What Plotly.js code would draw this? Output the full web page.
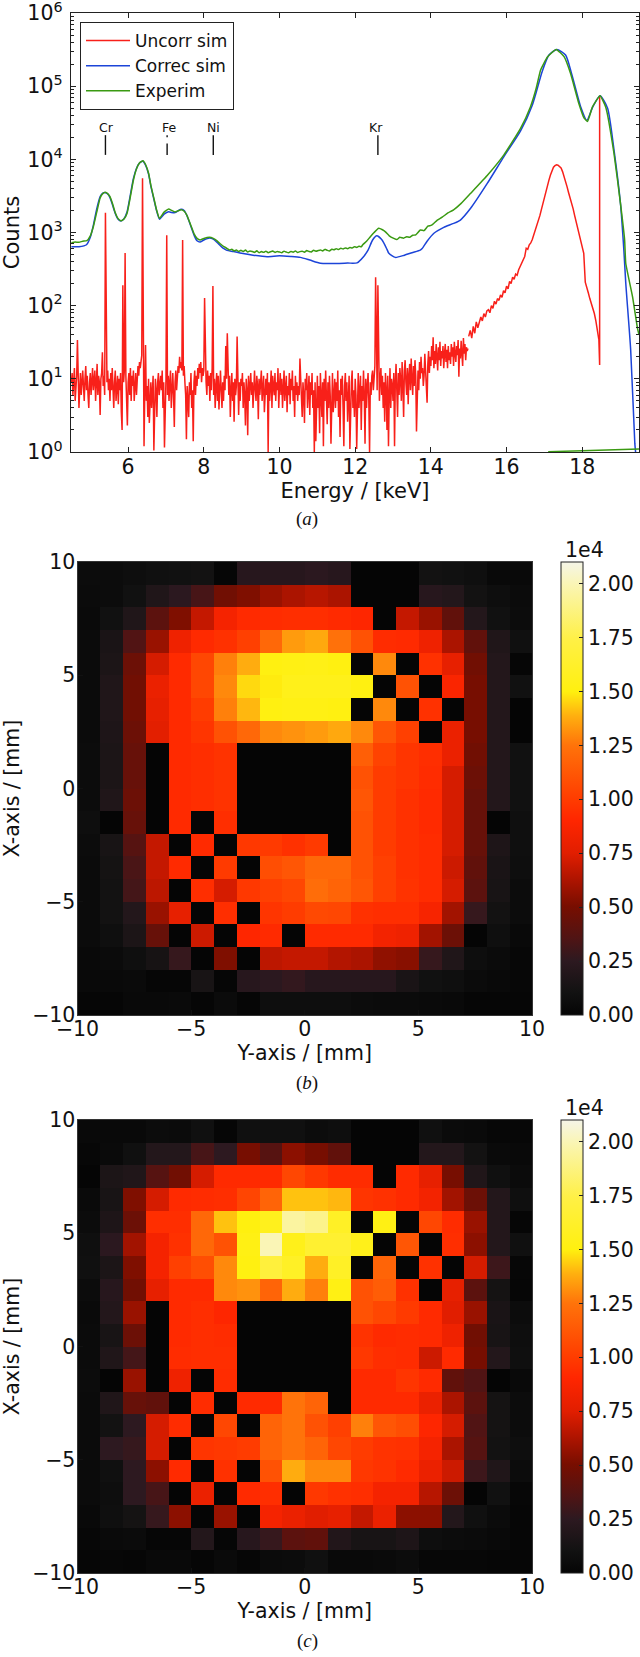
<!DOCTYPE html>
<html><head><meta charset="utf-8">
<script src="https://cdn.plot.ly/plotly-3.0.1.min.js"></script>
<style>html,body{margin:0;padding:0;background:#fff}</style></head>
<body><div id="chart" style="width:640px;height:1657px"></div>
<script>
// Uncorrected simulation below 15 keV, sampled every 0.02 keV from 4.50 keV
const noiseStart = 4.5, noiseStep = 0.02;
const noiseCounts = [
9,12,6,10,14,5,8,11,34,9,4,7,12,6,9,13,8,5,10,15,7,11,6,4,9,
12,6,10,14,7,9,13,5,8,16,6,11,9,3.2,10,12,23,8,11,6,1860,15,9,13,7,
10,5,12,7,14,6,4,9,13,5,8,11,4.5,10,7,12,3.5,2,190,9,13,525,11,6,2.3,
9,12,6,14,5,11,8,13,5,9,12,6,13,15,11,17,14,19,21,5500,22,1.2,7,29,5,
8,3,10,2.5,6,9,4,7,11,1.05,5,10,7,3,9,12,6,8,11,7,13,4,9,1.15,7,
10,920,6,11,5,9,13,4,8,12,6,2.2,9,13,7,11,15,12,20,14,17,13,790,11,15,
9,6,1.5,8,5,3,9,6,12,4,7,1.4,9,13,6,11,8,14,10,16,12,17,9,14,11,
13,127,16,9,6,13,8,11,5,12,7,14,186,6,10,4,8,12,5,11,3.8,9,13,7,4,
9,5,11,7,28,10,42,8,6,11,3,7,12,5,9,2.6,10,6,8,38,7,3.2,9,5,10,
8,12,4,9,6,2.3,10,7,1.7,11,5,8,12,6,9,4,10,13,7,5,11,8,2.8,10,6,
9,13,5,8,11,3.5,7,10,6,12,1.0,9,5,7,13,4,11,8,6,12,5,9,7,14,4,
8,12,6,10,4,7,13,5,9,11,3.5,8,6,12,4.5,10,7,13,5,8,3,11,6,9,5,
8,6,19,10,5,3,9,6,2.5,10,7,12,4,8,11,3.2,9,6,12,4,7,1.0,9,1.4,6,
11,4,8,1.8,12,6,3,9,1.2,10,5,13,7,2.4,9,4,11,6,1.3,8,12,3.5,7,10,4,
9,5,13,3,7,1.6,10,6,11,4,1.2,8,12,5,9,2.6,7,11,1.1,5,9,13,4,7,3,
10,6,1.1,9,12,4,7,11,2,8,5,13,6,1.3,10,4,8,12,5,1.0,9,6,11,13,7,
12,15,245,9,7,190,13,5,10,14,6,11,4,9,2.6,12,7,2,11,1.2,6,14,4,10,8,
5,12,1.2,9,16,7,3,12,6,14,10,5,17,8,3,13,18,9,6,14,4.5,11,16,7,19,
10,6,15,8,18,11,1.9,9,13,7,17,10,20,12,14,8,11,22,14,9,4.7,16,24,12,20,
15,28,18,37,14,24,16,30,20,13,27,18,32,15,24,19,28,14,22,30,17,25,14,28,18,
23,16,30,20,27,15,32,22,17,28,21,34,10.7,26,19,33,24,15,36,22,30,18,27,24,26];
// Uncorrected simulation above 15 keV, sampled every 0.04 keV
const riseStart = 15, riseStep = 0.04;
const riseCounts = [38,46,36,52,42,60,50,58,70,62,78,70,85,
88,80,100,92,115,105,125,118,140,130,160,150,185,170,215,200,245,230,270,260,310,340,385,430,470,
610,590,680,720,800,920,1050,1250,1450,1700,2050,2500,3000,3700,4500,5200,6100,7000,7800,8200,8400,8300,8000,7600,6800,
5900,5000,4200,3500,3000,2500,2100,1700,1400,1200,1000,820,680,520,210,170,150,125,108,92,78,62,45,34];
const edgeE = [18.44,18.46,18.46];
const edgeCounts = [34,15.5,71000];

const correcE = [4.5,4.7,4.9,5.0,5.08,5.17,5.26,5.33,5.4,5.46,5.52,5.59,5.66,5.73,5.81,5.89,5.97,6.05,6.14,6.22,6.3,6.39,6.46,6.54,6.6,6.67,6.75,6.83,6.95,7.07,7.15,7.24,7.32,7.4,7.48,7.55,7.65,7.75,7.82,7.9,8.0,8.15,8.25,8.35,8.45,8.53,8.61,8.78,9.0,9.3,9.67,10,10.3,10.55,10.8,11.08,11.5,11.8,12.05,12.22,12.34,12.46,12.57,12.71,12.84,12.89,13.06,13.3,13.5,13.72,13.77,13.9,14.08,14.34,14.6,14.78,15.05,15.49,15.93,16.37,16.68,16.94,17.12,17.33,17.56,17.73,17.96,18.12,18.27,18.47,18.67,18.84,19.01,19.1,19.15,19.28,19.39,19.41];
const correcCounts = [640,640,680,860,1250,2100,3100,3450,3500,3350,3000,2350,1820,1530,1440,1540,1900,3100,5500,7500,8900,9400,8300,6300,4300,3000,2000,1520,1780,1920,1880,1870,1980,2080,2000,1720,1250,900,770,740,790,840,810,730,650,600,570,550,520,490,467,480,470,457,420,380,378,382,385,467,575,790,902,790,589,519,457,490,530,575,603,760,977,1175,1330,1480,2140,4680,10900,24500,55000,158000,266000,318000,266000,141000,52000,33900,51000,74000,50000,13400,2500,575,204,25,1.3,1];

const experimE = [4.5,4.6,4.7,4.8,4.91,5.0,5.08,5.17,5.26,5.33,5.4,5.46,5.52,5.59,5.66,5.73,5.81,5.89,5.97,6.05,6.14,6.22,6.3,6.39,6.46,6.54,6.6,6.67,6.75,6.83,6.95,7.07,7.15,7.24,7.32,7.4,7.48,7.55,7.65,7.75,7.82,7.9,8.0,8.15,8.25,8.35,8.45,8.53,8.61,
8.68,8.74,8.8,8.86,8.92,8.98,9.04,9.1,9.16,9.22,9.28,9.34,9.4,9.46,9.52,9.58,9.64,9.7,9.76,9.82,9.88,9.94,10,10.06,10.12,10.18,10.24,10.3,10.36,10.42,10.48,10.54,10.6,10.66,10.72,10.78,10.84,10.9,10.96,11.02,11.08,11.14,11.2,11.26,11.32,11.38,11.44,11.5,11.56,11.62,11.68,11.74,11.8,11.86,11.92,11.98,12.04,12.1,12.16,12.2,
12.3,12.4,12.5,12.62,12.72,12.8,12.9,13.02,13.1,13.18,13.28,13.36,13.44,13.52,13.6,13.72,13.82,13.92,14.02,14.17,14.3,14.45,14.6,14.8,15.05,15.5,15.93,16.37,16.63,16.78,16.9,17.08,17.31,17.52,17.69,17.91,18.05,18.14,18.27,18.47,18.62,18.84,19.01,19.12,19.15,19.33,19.46,19.5,null,17.1,18,19.5];
const experimCounts = [725,740,735,760,773,900,1200,1900,2960,3400,3550,3400,3090,2450,1860,1560,1450,1530,1820,2900,5220,7400,8900,9550,8500,6450,4400,3090,2050,1560,1900,2090,2000,1910,1980,2040,1950,1730,1280,940,832,790,830,860,830,770,690,640,607,
575,590,560,578,548,570,552,575,540,560,550,535,562,528,548,536,556,530,545,558,534,552,542,530,556,540,528,552,538,560,532,548,556,538,566,550,542,572,556,566,578,560,588,572,560,590,580,602,584,610,594,616,600,625,612,640,626,650,636,680,
760,875,1000,1140,1090,1020,900,830,800,860,835,875,860,915,930,1080,1060,1220,1260,1480,1620,1850,2040,2500,3430,6100,11500,26500,52000,92000,166000,250000,318000,253000,150000,58000,36500,33000,52000,74000,52000,12000,2500,790,380,132,49,40,null,1.01,1.04,1.1];

const elementE = [5.4,5.4,null,7.03,7.03,null,7.03,7.03,null,8.25,8.25,null,12.6,12.6];
const elementTicks = [21400,11500,null,21400,20000,null,16500,11500,null,21400,11500,null,21400,11500];
const elementNames = ['Cr','Fe','Ni','Kr'];
const elementNameE = [5.42,7.08,8.25,12.55];
const energyTicks = [6,8,10,12,14,16,18];
const countTicks = [1,10,100,1000,10000,100000,1000000];
const countLabels = ['10<sup>0</sup>','10<sup>1</sup>','10<sup>2</sup>','10<sup>3</sup>','10<sup>4</sup>','10<sup>5</sup>','10<sup>6</sup>'];
const countMinor = [2,3,4,5,6,7,8,9,20,30,40,50,60,70,80,90,200,300,400,500,600,700,800,900,2000,3000,4000,5000,6000,7000,8000,9000,20000,30000,40000,50000,60000,70000,80000,90000,200000,300000,400000,500000,600000,700000,800000,900000];

// Intensity maps in units of 1e4; rows from X = +10 down to X = -10
const mapB = [
[.06,.06,.07,.09,.10,.11,.01,.22,.22,.22,.24,.22,0,0,0,.11,.10,.08,.03,.03],
[.05,.06,.10,.18,.24,.33,.48,.52,.58,.62,.65,.62,0,0,0,.22,.20,.11,.07,.05],
[.04,.10,.18,.40,.52,.68,.85,.92,.93,.94,.94,.92,.90,0,.68,.58,.42,.20,.10,.06],
[.05,.15,.36,.58,.82,.92,.95,1.02,1.2,1.34,1.37,1.24,1.1,.93,.92,.82,.62,.42,.18,.09],
[.05,.16,.46,.72,.92,1.05,1.28,1.38,1.51,1.52,1.53,1.51,0,1.3,0,.95,.78,.48,.20,.01],
[.05,.18,.48,.8,.92,1.05,1.3,1.46,1.49,1.55,1.55,1.55,1.51,0,1.1,0,.88,.5,.2,.1],
[.05,.18,.48,.78,.92,1.0,1.28,1.4,1.51,1.52,1.52,1.51,0,1.3,0,.95,0,.5,.2,0],
[.05,.17,.46,.76,.92,.97,1.1,1.2,1.3,1.32,1.34,1.37,1.3,1.12,1.02,0,.8,.5,.2,0],
[.06,.16,.44,0,.92,.94,.96,0,0,0,0,0,1.16,1.03,.97,.94,.8,.48,.2,.1],
[.06,.16,.44,0,.92,.94,.96,0,0,0,0,0,1.1,1.0,.97,.93,.72,.46,.2,.1],
[.06,.18,.46,0,.92,.94,.96,0,0,0,0,0,1.12,1.0,.95,.92,.72,.44,.2,.1],
[.07,0,.44,0,.92,0,.94,0,0,0,0,0,1.1,1.0,.95,.92,.72,.44,0,.08],
[.06,.14,.38,.68,0,.92,0,.98,.99,.95,.99,0,1.1,1.0,.95,.93,.72,.44,.17,.08],
[.05,.12,.34,.68,.92,0,.99,0,1.08,1.12,1.2,1.2,1.1,1.02,.95,.93,.7,.42,.15,.07],
[.05,.11,.32,.66,0,.94,.72,.98,1.02,1.05,1.22,1.18,1.12,1.02,.96,.93,.72,.40,.14,.06],
[.05,.11,.2,.58,.78,0,.94,0,.97,1.0,1.06,1.05,.95,.94,.94,.86,.6,.28,.11,.06],
[.05,.08,.16,.44,0,.7,0,.9,.92,0,.92,.92,.92,.84,.82,.6,.46,0,.08,.03],
[.03,.05,.08,.13,.28,0,.52,0,.66,.68,.68,.64,.62,.56,.54,.28,.18,.07,.05,.02],
[.03,.03,.04,.01,.01,.14,.01,.22,.24,.27,.22,.22,.22,.22,.15,.1,.08,.05,.03,.02],
[.01,.01,.03,.03,.04,.01,.05,.01,.07,.07,.07,.07,.06,.05,.05,.04,.03,.01,.01,.01]];
const mapC = [
[.03,.03,.03,.06,.05,.09,.01,.09,.09,.09,.06,.07,0,0,0,.09,.05,.04,.02,.02],
[.02,.04,.09,.2,.2,.33,.25,.5,.38,.55,.5,.42,0,0,0,.2,.2,.11,.04,.03],
[0,.16,.18,.38,.48,.72,.92,.92,.92,1.05,.98,.93,.93,0,.92,.78,.5,.18,.09,.05],
[.04,.14,.52,.72,.92,.93,.94,1.04,1.18,1.42,1.42,1.4,.97,.95,.92,.84,.6,.46,.2,.08],
[.06,.17,.46,.94,.94,1.2,1.42,1.5,1.56,1.95,1.9,1.6,0,1.52,0,1.05,.93,.58,.2,.01],
[.08,.24,.6,.85,.95,1.2,1.1,1.52,2.0,1.55,1.65,1.65,1.55,0,1.12,0,.94,.55,.2,.09],
[.09,.16,.52,.85,1.02,1.08,1.3,1.51,1.7,1.6,1.38,1.6,0,1.18,0,.95,0,.72,.3,.02],
[.06,.22,.48,.78,.92,.92,1.3,1.32,1.18,1.38,1.28,1.52,1.1,1.15,.95,0,.78,.4,.12,.01],
[.04,.2,.58,0,.92,.94,.9,0,0,0,0,0,1.1,1.05,.99,.92,.75,.58,.15,.06],
[.05,.14,.46,0,.92,.94,.93,0,0,0,0,0,.96,.92,.93,.92,.82,.48,.14,.07],
[.05,.18,.32,0,.93,.94,.94,0,0,0,0,0,.98,.94,.93,.7,.92,.5,.2,.08],
[.06,0,.58,0,.82,0,.93,0,0,0,0,0,.92,.92,.97,.92,.42,.36,0,.03],
[.05,.18,.44,.42,0,.93,0,.92,.92,1.25,1.18,0,.92,.92,.92,.8,.62,.4,.12,.06],
[.05,.11,.25,.72,.93,0,1.05,0,1.18,1.25,1.1,1.02,1.28,1.12,1.08,.9,.72,.36,.12,.06],
[.05,.25,.28,.72,0,.97,.98,1.0,1.18,1.25,1.18,1.05,1.0,.96,.95,.85,.62,.38,.11,.07],
[.05,.09,.25,.55,.92,0,.95,0,1.1,1.38,1.3,1.3,.98,.96,.92,.8,.7,.3,.18,.06],
[.05,.07,.25,.33,0,.8,0,.92,.94,0,.98,.95,.94,.85,.85,.65,.46,0,.1,.02],
[.03,.08,.12,.28,.55,0,.58,0,.85,.8,.75,.78,.68,.8,.55,.55,.2,.09,.05,.01],
[.02,.04,.05,.01,.01,.2,.01,.22,.28,.4,.42,.19,.14,.14,.17,.07,.06,.05,.03,.01],
[.01,.02,.01,.03,.03,.01,.04,.01,.05,.06,.09,.03,.03,.04,.06,.02,.02,.02,.01,.01]];
const mapTicks = [-10,-5,0,5,10];
const barTicks = [0,.25,.5,.75,1,1.25,1.5,1.75,2];
const barLabels = ['0.00','0.25','0.50','0.75','1.00','1.25','1.50','1.75','2.00'];
const heatScale = [[0,'rgb(5,5,5)'],[.05,'rgb(18,18,18)'],[.12,'rgb(45,25,32)'],[.17,'rgb(80,20,20)'],[.24,'rgb(120,14,0)'],[.30,'rgb(175,20,0)'],[.357,'rgb(225,30,0)'],[.43,'rgb(255,38,0)'],[.476,'rgb(255,60,0)'],[.595,'rgb(255,115,10)'],[.66,'rgb(255,175,15)'],[.714,'rgb(255,240,15)'],[.83,'rgb(255,240,70)'],[.95,'rgb(250,245,180)'],[1,'rgb(245,245,232)']];

const W = 640, H = 1657;
const FONT = 'DejaVu Sans';
const px = v => v / W, py = v => 1 - v / H;
const RED = '#f8201a';

function heat(z, xa, ya, top) {
  return {type:'heatmap', z, x0:-9.5, dx:1, y0:9.5, dy:-1, xaxis:xa, yaxis:ya, zmin:0, zmax:2.1,
    colorscale:heatScale, hoverinfo:'skip',
    colorbar:{x:px(561), xanchor:'left', xref:'paper', xpad:0, thickness:22, thicknessmode:'pixels',
      y:py(top), yanchor:'top', yref:'paper', ypad:0, len:453/H, lenmode:'fraction',
      outlinewidth:1, outlinecolor:'#222', borderwidth:0, ticks:'inside', ticklen:4, tickcolor:'#222',
      tickmode:'array', tickvals:barTicks, ticktext:barLabels, tickfont:{size:20.5, family:FONT, color:'#111'}}};
}
const traces = [
  {type:'scatter', mode:'lines', name:'Uncorr sim', x0:noiseStart, dx:noiseStep, y:noiseCounts, line:{color:RED, width:1.5}, hoverinfo:'skip'},
  {type:'scatter', mode:'lines', showlegend:false, x0:riseStart, dx:riseStep, y:riseCounts, line:{color:RED, width:1.5}, hoverinfo:'skip'},
  {type:'scatter', mode:'lines', showlegend:false, x:edgeE, y:edgeCounts, line:{color:RED, width:1.5}, hoverinfo:'skip'},
  {type:'scatter', mode:'lines', name:'Correc sim', x:correcE, y:correcCounts, line:{color:'#1c44d8', width:1.5, shape:'spline', smoothing:.6}, hoverinfo:'skip'},
  {type:'scatter', mode:'lines', name:'Experim', x:experimE, y:experimCounts, line:{color:'#3a9a12', width:1.5, shape:'spline', smoothing:.4}, hoverinfo:'skip'},
  {type:'scatter', mode:'lines', showlegend:false, x:elementE, y:elementTicks, line:{color:'#111', width:1.4}, hoverinfo:'skip'},
  heat(mapB,'x2','y2',562),
  heat(mapC,'x3','y3',1120)
];
const mapAxis = (domain, title, standoff, tickShift) => ({domain, range:[-10,10], tickmode:'array', tickvals:mapTicks,
  ticks:'inside', ticklen:5, tickcolor:'#111', tickfont:{size:20.5, family:FONT, color:'#111'}, ticklabelstandoff:tickShift, ticklabeloverflow:'allow',
  showgrid:false, zeroline:false, showline:true, linecolor:'#333', linewidth:1, mirror:true, automargin:false,
  title:{text:title, standoff, font:{size:20.5, family:FONT, color:'#111'}}});
const annots = [];
elementNames.forEach((t,i)=>annots.push({text:t, x:elementNameE[i], y:Math.log10(26900), xref:'x', yref:'y', showarrow:false, font:{size:12.5, family:FONT, color:'#111'}}));
[['(<i>a</i>)',519],['(<i>b</i>)',1083],['(<i>c</i>)',1641]].forEach(c=>annots.push({text:c[0], x:px(307), y:py(c[1]), xref:'paper', yref:'paper', xanchor:'center', yanchor:'middle', showarrow:false, font:{size:19, family:'Liberation Serif', color:'#111'}}));
[550,1108].forEach(yy=>annots.push({text:'1e4', x:px(584), y:py(yy), xref:'paper', yref:'paper', xanchor:'center', yanchor:'middle', showarrow:false, font:{size:20.5, family:FONT, color:'#111'}}));

const layout = {
  width:W, height:H, margin:{l:0,r:0,t:0,b:0}, paper_bgcolor:'#fff', plot_bgcolor:'#fff',
  font:{family:FONT, color:'#111'},
  showlegend:true,
  legend:{x:px(80), y:py(22), xanchor:'left', yanchor:'top', bgcolor:'#fff', bordercolor:'#222', borderwidth:1, font:{size:17, family:FONT, color:'#111'}, itemwidth:44, tracegroupgap:0},
  xaxis:{domain:[px(71),px(639)], range:[4.49,19.5], tickmode:'array', tickvals:energyTicks, ticks:'inside', ticklen:5, tickcolor:'#222', ticklabelstandoff:-4,
    tickfont:{size:20.5, family:FONT, color:'#111'}, showgrid:false, zeroline:false, showline:true, linecolor:'#222', linewidth:1.3, mirror:'ticks',
    title:{text:'Energy / [keV]', standoff:3, font:{size:21, family:FONT, color:'#111'}}},
  yaxis:{domain:[py(452),py(13)], type:'log', range:[0,6], tickmode:'array', tickvals:countTicks, ticktext:countLabels, ticks:'inside', ticklen:5, tickcolor:'#222', ticklabelstandoff:3, ticklabeloverflow:'allow',
    minor:{tickmode:'array', tickvals:countMinor, ticks:'inside', ticklen:3, tickcolor:'#222', showgrid:false},
    tickfont:{size:20.5, family:FONT, color:'#111'}, showgrid:false, zeroline:false, showline:true, linecolor:'#222', linewidth:1.3, mirror:'ticks',
    title:{text:'Counts', standoff:5, font:{size:21, family:FONT, color:'#111'}}},
  xaxis2:Object.assign(mapAxis([px(77.5),px(532)],'Y-axis / [mm]',6,-5),{anchor:'y2'}),
  yaxis2:Object.assign(mapAxis([py(1015),py(562)],'X-axis / [mm]',11,-3),{anchor:'x2'}),
  xaxis3:Object.assign(mapAxis([px(77.5),px(532)],'Y-axis / [mm]',6,-5),{anchor:'y3'}),
  yaxis3:Object.assign(mapAxis([py(1573),py(1120)],'X-axis / [mm]',11,-3),{anchor:'x3'}),
  annotations:annots
};
Plotly.newPlot('chart', traces, layout, {displayModeBar:false, staticPlot:true});
</script></body></html>
